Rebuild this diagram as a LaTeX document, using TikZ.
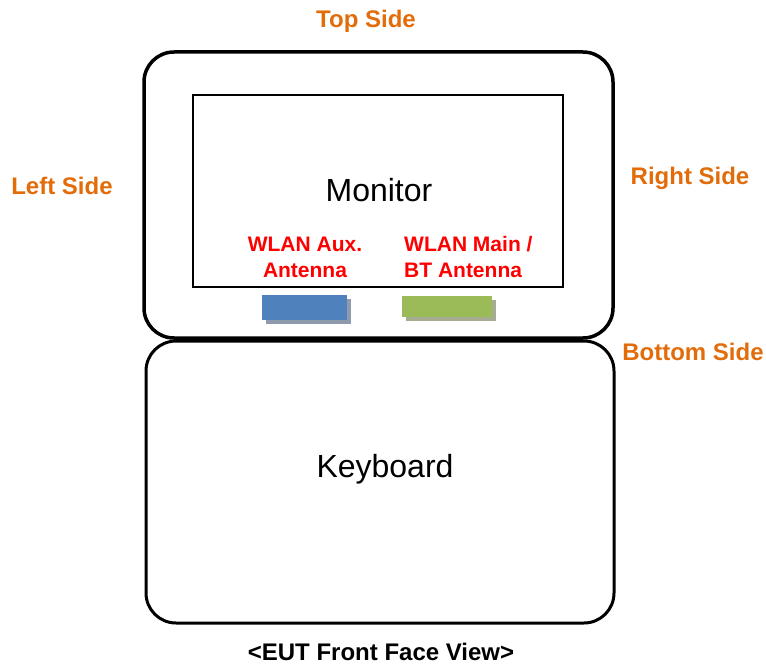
\documentclass[tikz,border=0pt]{standalone}
\usepackage{fontspec}
\setmainfont{Liberation Sans}
\usepackage{tikz}
\usetikzlibrary{positioning}

\definecolor{sideorange}{HTML}{E36C0A}
\definecolor{antred}{HTML}{FF0000}
\definecolor{auxblue}{HTML}{4F81BD}
\definecolor{maingreen}{HTML}{9BBB59}
\definecolor{blueshadow}{HTML}{8E9BAD}
\definecolor{greenshadow}{HTML}{A6AC90}

\tikzset{
  sidelabel/.style = {text=sideorange, font=\fontsize{24}{28}\selectfont\bfseries, inner sep=0pt},
  antlabel/.style = {text=antred, font=\fontsize{21}{26}\selectfont\bfseries, align=center, inner sep=0pt},
  partlabel/.style = {font=\fontsize{32}{36}\selectfont, inner sep=0pt},
  casebox/.style = {draw, rounded corners=30pt},
}

\begin{document}
\begin{tikzpicture}[x=1pt, y=-1pt]
      \useasboundingbox (0,0) rectangle (766,666);

      % monitor and keyboard
      \draw[casebox, line width=3.5pt] (144,52) rectangle (613,338);
      \draw[line width=1.8pt] (193,95) rectangle (563,287);
      \draw[casebox, line width=3pt] (146,341) rectangle (614,623);

      % antennas
      \fill[blueshadow] (266,299) rectangle (351,324);
      \fill[auxblue] (262,295) rectangle (347,320);
      \fill[greenshadow] (406,300) rectangle (496,321);
      \fill[maingreen] (402,296) rectangle (492,317);

      \node[partlabel] (Monitor) at (379,190) {Monitor};
      \node[partlabel] (Keyboard) at (385,469) {Keyboard};
      \node[antlabel] (Aux) at (305,257) {WLAN Aux.\\Antenna};
      \node[antlabel, align=left, anchor=west] (Main) at (404,257) {WLAN Main /\\BT Antenna};

      \node[sidelabel] (Top) at (366,21) {Top Side};
      \node[sidelabel] (Left) at (62,186) {Left Side};
      \node[sidelabel] (Right) at (690,178) {Right Side};
      \node[sidelabel] (Bottom) at (693,352) {Bottom Side};

      \node[font=\fontsize{24}{28}\selectfont\bfseries, inner sep=0pt] (View) at (381,652) {<EUT Front Face View>};
    \end{tikzpicture}
\end{document}
